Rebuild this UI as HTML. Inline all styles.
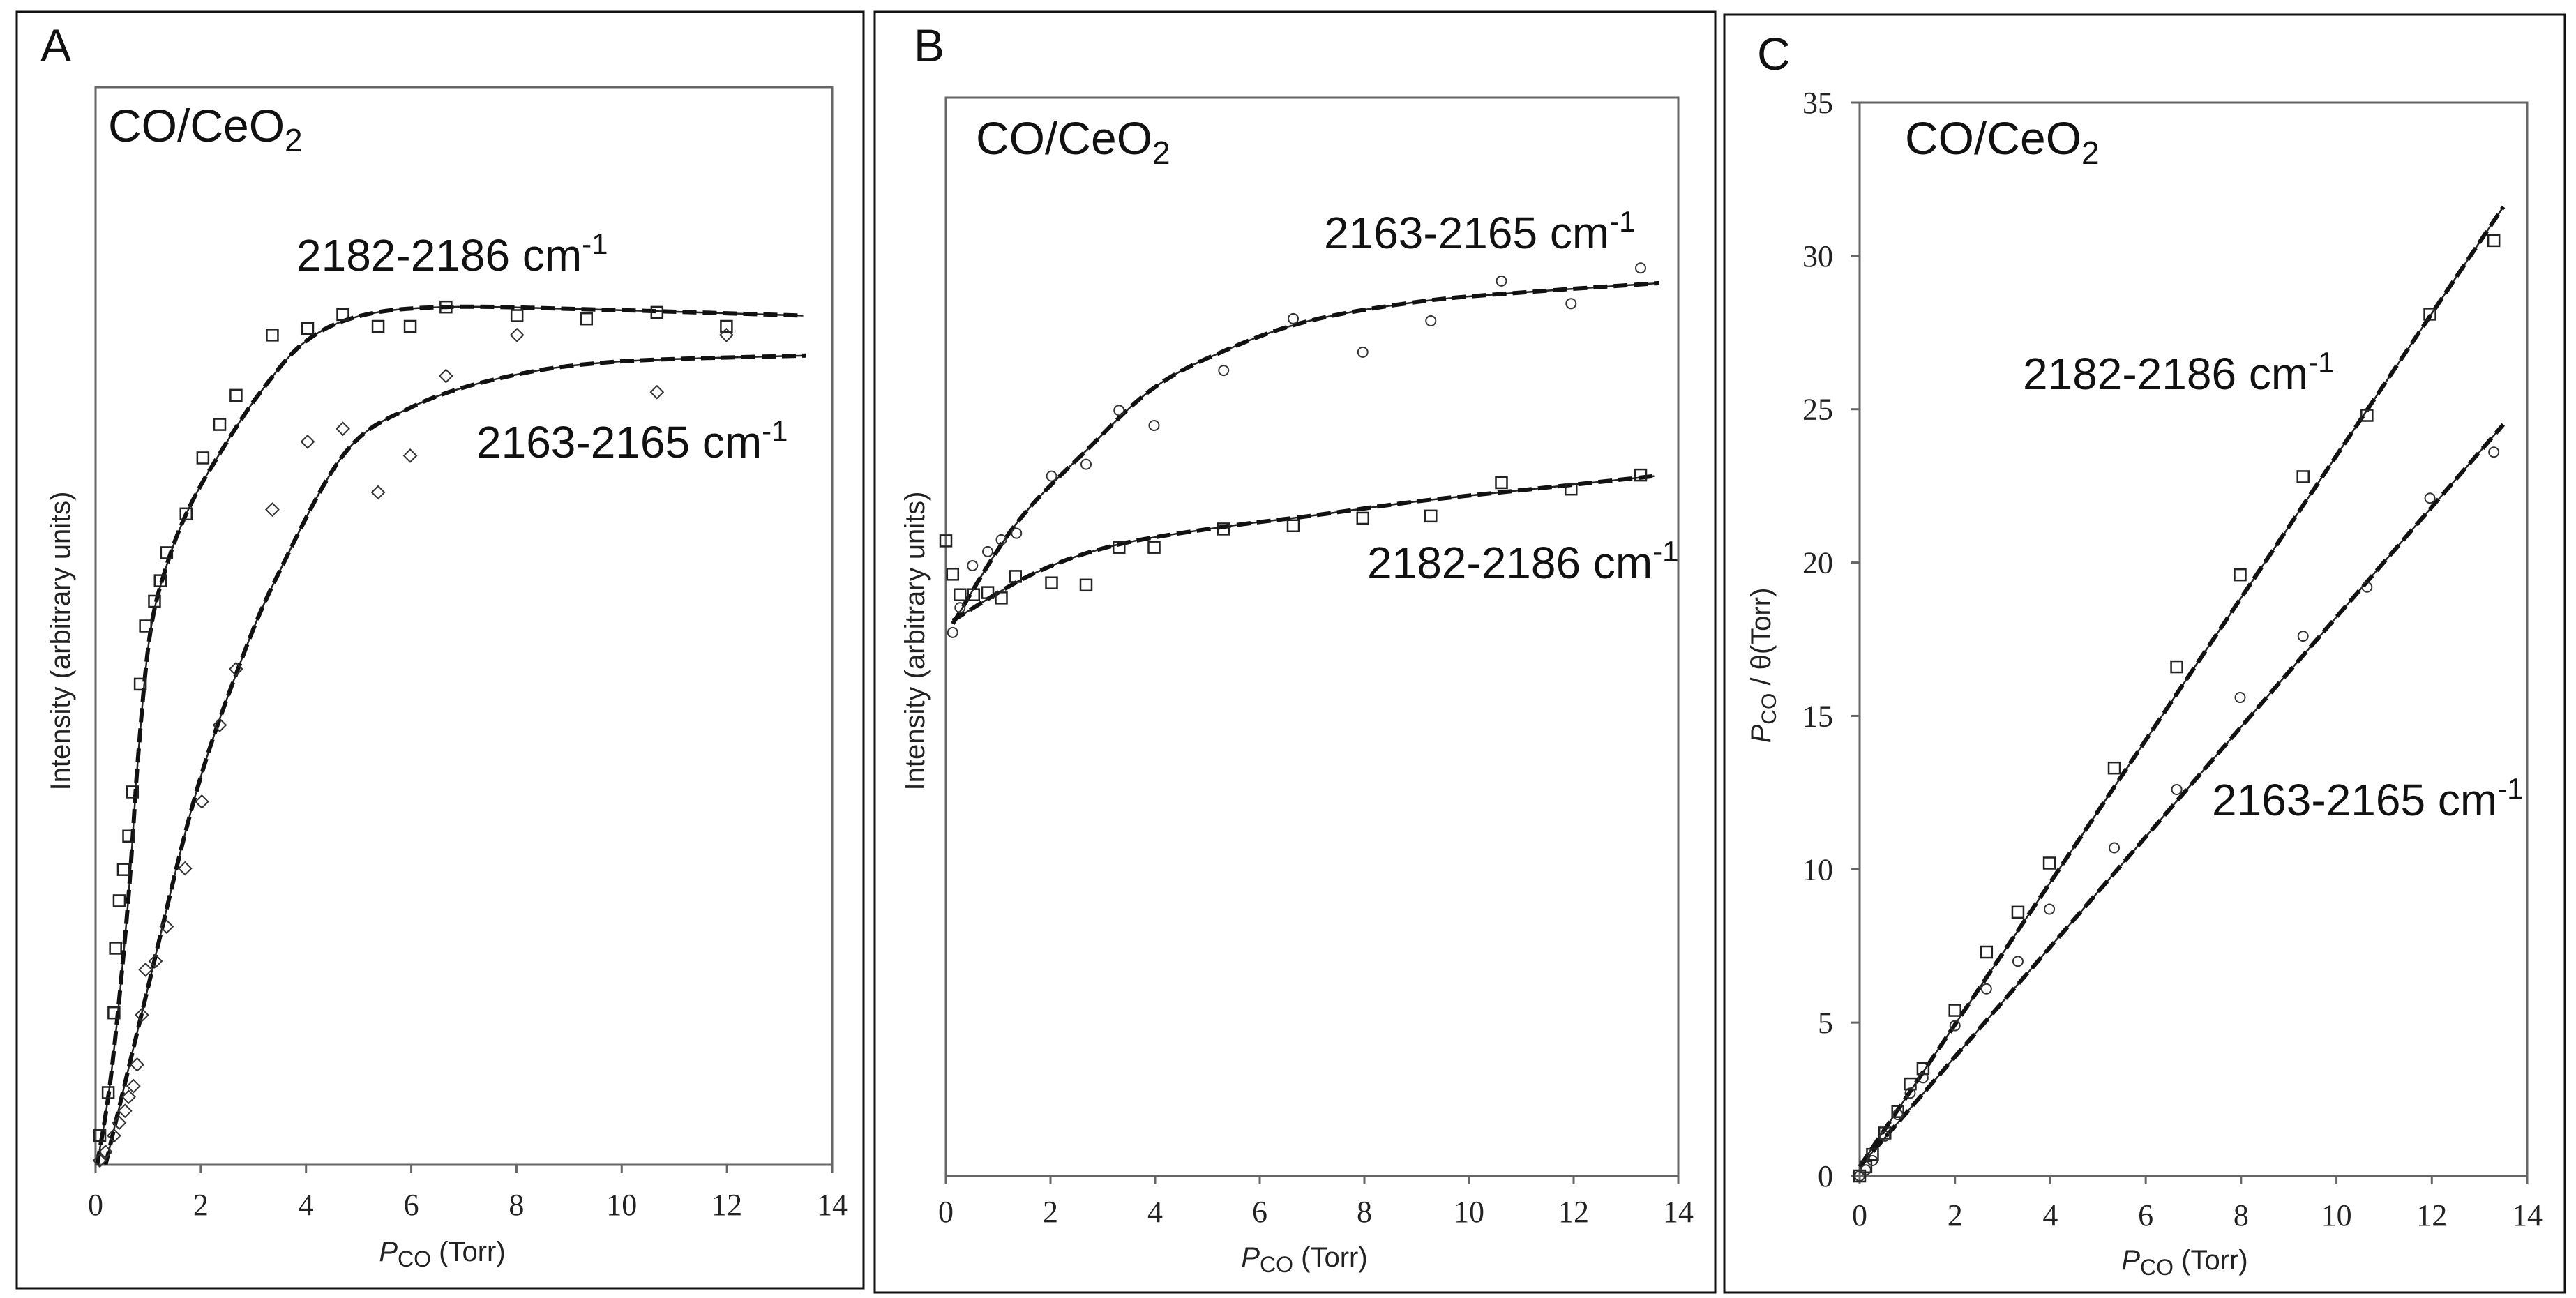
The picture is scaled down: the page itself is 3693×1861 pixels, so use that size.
<!DOCTYPE html>
<html><head><meta charset="utf-8"><style>
html,body{margin:0;padding:0;background:#fff;}
svg{display:block;font-family:"Liberation Sans",sans-serif;}
.tick{font-family:"Liberation Serif",serif;font-size:44px;fill:#222;}
.lbl{font-size:64px;fill:#111;}
.big{font-size:66px;fill:#111;}
.atitle{font-size:40px;fill:#222;}
</style></head><body>
<svg id="fig" width="3693" height="1861" viewBox="0 0 3693 1861" xmlns="http://www.w3.org/2000/svg">
<rect x="0" y="0" width="3693" height="1861" fill="#fff"/>
</svg>
<script>
// ---- Panel A data (arbitrary intensity 0-100) ----
const aSqX=[0.08,0.24,0.35,0.38,0.45,0.53,0.63,0.70,0.85,0.95,1.12,1.23,1.35,1.72,2.04,2.36,2.67,3.36,4.03,4.70,5.37,5.98,6.66,8.01,9.33,10.67,11.99];
const aSqY=[2.7,6.7,14.1,20.1,24.5,27.4,30.5,34.6,44.6,50.0,52.3,54.2,56.8,60.4,65.6,68.7,71.4,77.0,77.6,78.9,77.8,77.8,79.6,78.8,78.5,79.1,77.8];
const aDiX=[0.08,0.19,0.35,0.45,0.56,0.63,0.72,0.79,0.88,0.95,1.14,1.35,1.70,2.02,2.36,2.67,3.36,4.03,4.70,5.37,5.98,6.66,8.01,10.67,11.99];
const aDiY=[0.4,1.2,2.7,3.9,5.0,6.3,7.3,9.3,13.9,18.1,18.9,22.1,27.5,33.7,40.8,46.0,60.8,67.1,68.3,62.4,65.8,73.2,77.0,71.7,77.0];
const aFitSqX=[0.03,0.30,0.61,0.82,1.04,1.35,1.78,2.41,3.15,3.99,5.05,6.63,9.27,13.45];
const aFitSqY=[0,8.5,23.9,38.6,49.4,55.6,61,66.4,71.8,76.4,78.8,79.6,79.4,78.8];
const aFitDiX=[0.19,0.93,1.88,2.73,3.47,4.73,6.0,7.69,9.81,13.5];
const aFitDiY=[0,15.1,34,46.3,54.8,66,70.3,73,74.5,75.1];
// ---- Panel B data ----
const bCiX=[0.13,0.27,0.51,0.80,1.06,1.35,2.02,2.68,3.31,3.98,5.31,6.64,7.97,9.27,10.62,11.95,13.28];
const bCiY=[50.4,52.7,56.6,57.9,59.0,59.6,64.9,66.0,71.0,69.6,74.7,79.5,76.4,79.3,83.0,80.9,84.2];
const bSqX=[0,0.13,0.27,0.53,0.80,1.06,1.33,2.02,2.68,3.31,3.98,5.31,6.64,7.97,9.27,10.62,11.95,13.28];
const bSqY=[58.9,55.8,53.9,53.9,54.1,53.6,55.6,55.0,54.8,58.3,58.3,60.0,60.3,61.0,61.2,64.3,63.7,65.0];
const bFitCiX=[0.13,1.33,2.71,3.98,5.36,6.95,9.08,11.2,13.64];
const bFitCiY=[51.2,60.4,67.4,73.1,76.6,79.3,81.1,82.0,82.8];
const bFitSqX=[0.13,1.65,3.24,5.31,6.95,9.08,11.2,13.54];
const bFitSqY=[51.5,55.8,58.5,60.2,61.2,62.6,63.7,64.9];
// ---- Panel C data ----
const cSqX=[0,0.13,0.27,0.53,0.8,1.06,1.33,2.0,2.66,3.32,3.98,5.34,6.65,7.98,9.3,10.64,11.96,13.3];
const cSqY=[0,0.3,0.7,1.4,2.1,3.0,3.5,5.4,7.3,8.6,10.2,13.3,16.6,19.6,22.8,24.8,28.1,30.5];
const cCiX=[0,0.13,0.27,0.53,0.8,1.06,1.33,2.0,2.66,3.32,3.98,5.34,6.65,7.98,9.3,10.64,11.96,13.3];
const cCiY=[0,0.2,0.5,1.3,2.0,2.7,3.2,4.9,6.1,7.0,8.7,10.7,12.6,15.6,17.6,19.2,22.1,23.6];
const cFitSqX=[0,13.5];
const cFitSqY=[0.3,31.6];
const cFitCiX=[0,13.5];
const cFitCiY=[0.3,24.5];
const xTicks=[0,2,4,6,8,10,12,14];
const cYTicks=[0,5,10,15,20,25,30,35];

const NS="http://www.w3.org/2000/svg";
const svg=document.getElementById('fig');
function mk(tag,attrs,parent){const e=document.createElementNS(NS,tag);for(const k in attrs)e.setAttribute(k,attrs[k]);(parent||svg).appendChild(e);return e;}
function txt(s,x,y,cls,parent,anchor){const t=mk('text',{x:x,y:y,class:cls,'text-anchor':anchor||'start'},parent);t.textContent=s;return t;}

function panel(id,frame,plot,xr,yr,letter,letterPos){
  const g=mk('g',{});
  
  
  const fr=mk('rect',{x:frame[0],y:frame[1],width:frame[2]-frame[0],height:frame[3]-frame[1],fill:'none',stroke:'#111','stroke-width':3},g);
  
  
  const pb=mk('rect',{x:plot.l,y:plot.t,width:plot.r-plot.l,height:plot.b-plot.t,fill:'none',stroke:'#666','stroke-width':3},g);
  
  
  const L=txt(letter,letterPos[0],letterPos[1],'big',g);
  
  
  const sx=v=>plot.l+(v-xr[0])/(xr[1]-xr[0])*(plot.r-plot.l);
  const sy=v=>plot.b-(v-yr[0])/(yr[1]-yr[0])*(plot.b-plot.t);
  return {g,sx,sy};
}
function xAxis(P,plot,id,labelY){
  xTicks.forEach(v=>{
    const x=P.sx(v);
    mk('line',{x1:x,y1:plot.b,x2:x,y2:plot.b+12,stroke:'#666','stroke-width':3},P.g);
    const t=txt(String(v),x,labelY,'tick',P.g,'middle');
    
    
  });
}
function curve(P,xs,ys,name){
  const pts=xs.map((x,i)=>[P.sx(x),P.sy(ys[i])]);
  let d='M'+pts[0][0].toFixed(1)+','+pts[0][1].toFixed(1);
  for(let i=0;i<pts.length-1;i++){
    const p0=pts[Math.max(0,i-1)],p1=pts[i],p2=pts[i+1],p3=pts[Math.min(pts.length-1,i+2)];
    const c1=[p1[0]+(p2[0]-p0[0])/6,p1[1]+(p2[1]-p0[1])/6];
    const c2=[p2[0]-(p3[0]-p1[0])/6,p2[1]-(p3[1]-p1[1])/6];
    d+=`C${c1[0].toFixed(1)},${c1[1].toFixed(1)} ${c2[0].toFixed(1)},${c2[1].toFixed(1)} ${p2[0].toFixed(1)},${p2[1].toFixed(1)}`;
  }
  const s=mk('path',{d:d,fill:'none',stroke:'#222','stroke-width':2.5},P.g);
  
  
  const p=mk('path',{d:d,fill:'none',stroke:'#111','stroke-width':6,'stroke-dasharray':'20 9'},P.g);
  
  
}
function points(P,xs,ys,shape,name,sz){
  xs.forEach((x,i)=>{
    const cx=P.sx(x),cy=P.sy(ys[i]);let e;
    if(shape==='sq')e=mk('rect',{x:cx-sz,y:cy-sz,width:2*sz,height:2*sz,fill:'none',stroke:'#222','stroke-width':2.5},P.g);
    else if(shape==='ci')e=mk('circle',{cx:cx,cy:cy,r:sz,fill:'none',stroke:'#333','stroke-width':2},P.g);
    else e=mk('path',{d:`M${cx},${cy-sz}L${cx+sz},${cy}L${cx},${cy+sz}L${cx-sz},${cy}Z`,fill:'none',stroke:'#333','stroke-width':2},P.g);
    
    
  });
}
function title(P,x,y){
  const t=mk('text',{x:x,y:y,class:'big'},P.g);
  
  
  t.innerHTML='CO/CeO<tspan dy="14" font-size="46">2</tspan>';
}
function sLabel(P,s,x,y,name){
  const t=mk('text',{x:x,y:y,class:'lbl'},P.g);
  
  
  t.innerHTML=s+' cm<tspan dy="-24" font-size="42">-1</tspan>';
}
function xTitle(P,x,y){
  const t=mk('text',{x:x,y:y,class:'atitle','text-anchor':'middle'},P.g);
  
  
  t.innerHTML='<tspan font-style="italic">P</tspan><tspan dy="8" font-size="32">CO</tspan><tspan dy="-8"> (Torr)</tspan>';
}
function yTitle(P,x,y,html){
  const t=mk('text',{x:0,y:0,class:'atitle','text-anchor':'middle',transform:`translate(${x},${y}) rotate(-90)`},P.g);
  
  
  t.innerHTML=html;
}

// Panel A
const plotA={l:137,r:1193,t:125,b:1670};
const A=panel('a',[24,17,1238,1847],plotA,[0,14],[0,100],'A',[58,88]);
xAxis(A,plotA,'a',1742);
title(A,155,203);
curve(A,aFitSqX,aFitSqY,'fit-2182-a');
curve(A,aFitDiX,aFitDiY,'fit-2163-a');
points(A,aSqX,aSqY,'sq','point-2182-a',8);
points(A,aDiX,aDiY,'di','point-2163-a',9);
sLabel(A,'2182-2186',425,388,'label-2182-a');
sLabel(A,'2163-2165',683,656,'label-2163-a');
xTitle(A,634,1808);
yTitle(A,100,919,'Intensity (arbitrary units)');

// Panel B
const plotB={l:1356,r:2406,t:140,b:1686};
const B=panel('b',[1254,17,2459,1853],plotB,[0,14],[0,100],'B',[1310,88]);
xAxis(B,plotB,'b',1752);
title(B,1399,221);
curve(B,bFitCiX,bFitCiY,'fit-2163-b');
curve(B,bFitSqX,bFitSqY,'fit-2182-b');
points(B,bCiX,bCiY,'ci','point-2163-b',7);
points(B,bSqX,bSqY,'sq','point-2182-b',8);
sLabel(B,'2163-2165',1898,356,'label-2163-b');
sLabel(B,'2182-2186',1960,829,'label-2182-b');
xTitle(B,1870,1816);
yTitle(B,1325,919,'Intensity (arbitrary units)');

// Panel C
const plotC={l:2666,r:3623,t:147,b:1686};
const C=panel('c',[2472,21,3677,1853],plotC,[0,14],[0,35],'C',[2519,100]);
xAxis(C,plotC,'c',1757);
cYTicks.forEach(v=>{
  const y=C.sy(v);
  mk('line',{x1:plotC.l-12,y1:y,x2:plotC.l,y2:y,stroke:'#666','stroke-width':3},C.g);
  const t=txt(String(v),2628,y+15,'tick',C.g,'end');
  
  
});
title(C,2731,221);
curve(C,cFitSqX,cFitSqY,'fit-2182-c');
curve(C,cFitCiX,cFitCiY,'fit-2163-c');
points(C,cSqX,cSqY,'sq','point-2182-c',8);
points(C,cCiX,cCiY,'ci','point-2163-c',7);
sLabel(C,'2182-2186',2900,558,'label-2182-c');
sLabel(C,'2163-2165',3171,1169,'label-2163-c');
xTitle(C,3132,1820);
yTitle(C,2538,954,'<tspan font-style="italic">P</tspan><tspan dy="8" font-size="30">CO</tspan><tspan dy="-8"> / θ(Torr)</tspan>');
</script>
</body></html>
